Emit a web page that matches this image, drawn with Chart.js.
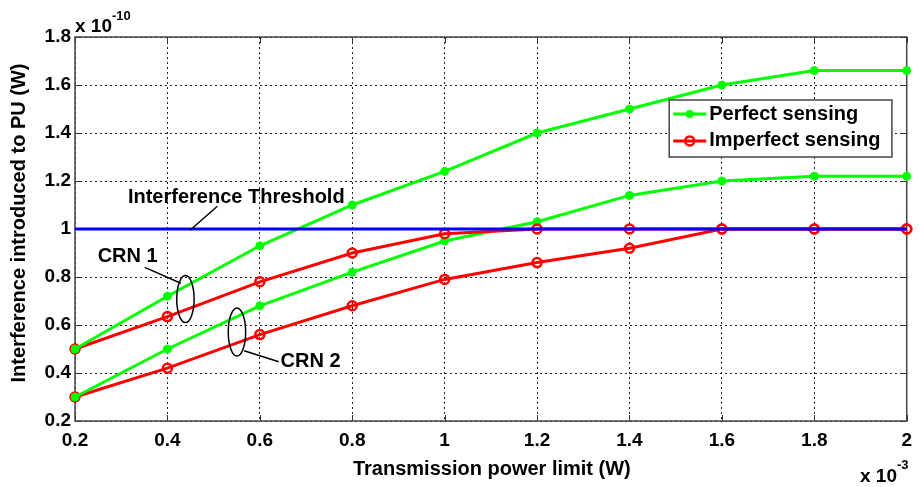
<!DOCTYPE html>
<html>
<head>
<meta charset="utf-8">
<script src="https://cdn.jsdelivr.net/npm/chart.js@4.4.1/dist/chart.umd.min.js"></script>
<style>
  html, body { margin: 0; padding: 0; background: #ffffff; }
  #wrap { width: 920px; height: 487px; }
</style>
</head>
<body>
<div id="wrap"><canvas id="c" width="920" height="487"></canvas></div>
<script>
// ---- data (x in units of 1e-3 W, y in units of 1e-10 W) ----
const powerLimits = [0.2, 0.4, 0.6, 0.8, 1.0, 1.2, 1.4, 1.6, 1.8, 2.0];
const perfectCRN1   = [0.50, 0.72, 0.93, 1.10, 1.24, 1.40, 1.50, 1.60, 1.66, 1.66];
const imperfectCRN1 = [0.50, 0.635, 0.78, 0.90, 0.98, 1.00, 1.00, 1.00, 1.00, 1.00];
const perfectCRN2   = [0.30, 0.50, 0.68, 0.82, 0.95, 1.03, 1.14, 1.20, 1.22, 1.22];
const imperfectCRN2 = [0.30, 0.42, 0.56, 0.68, 0.79, 0.86, 0.92, 1.00, 1.00, 1.00];
const thresholdValue = 1.0;
const xTickValues = [0.2, 0.4, 0.6, 0.8, 1.0, 1.2, 1.4, 1.6, 1.8, 2.0];
const yTickValues = [0.2, 0.4, 0.6, 0.8, 1.0, 1.2, 1.4, 1.6, 1.8];
const legendLabels = ['Perfect sensing', 'Imperfect sensing'];
const xTitle = 'Transmission power limit (W)';
const yTitle = 'Interference introduced to PU (W)';

const FONT = "'Liberation Sans', Arial, sans-serif";
const GREEN = '#00ff00', RED = '#ff0000', BLUE = '#0000ff';

function pts(ys) { return powerLimits.map((x, i) => ({ x: x, y: ys[i] })); }

const greenStyle = {
  borderColor: GREEN, backgroundColor: GREEN, borderWidth: 3,
  pointStyle: 'circle', pointRadius: 4, pointBackgroundColor: GREEN,
  pointBorderColor: GREEN, pointBorderWidth: 1, tension: 0, clip: false
};
const redStyle = {
  borderColor: RED, backgroundColor: 'rgba(0,0,0,0)', borderWidth: 3,
  pointStyle: 'circle', pointRadius: 4.5, pointBackgroundColor: 'rgba(0,0,0,0)',
  pointBorderColor: RED, pointBorderWidth: 2.5, tension: 0, clip: false
};

const datasets = [
  { label: 'Threshold', data: powerLimits.map(x => ({ x: x, y: thresholdValue })),
    borderColor: BLUE, borderWidth: 3, pointRadius: 0, tension: 0, clip: false },
  Object.assign({ label: legendLabels[0] + ' CRN1', data: pts(perfectCRN1) }, greenStyle),
  Object.assign({ label: legendLabels[1] + ' CRN1', data: pts(imperfectCRN1) }, redStyle),
  Object.assign({ label: legendLabels[0] + ' CRN2', data: pts(perfectCRN2) }, greenStyle),
  Object.assign({ label: legendLabels[1] + ' CRN2', data: pts(imperfectCRN2) }, redStyle)
];

// annotation anchors in data coordinates
const annotations = {
  thresholdText: { x: 0.549, y: 1.133, text: 'Interference Threshold' },
  thresholdLine: [[0.508, 1.095], [0.449, 0.995]],
  crn1Text: { x: 0.314, y: 0.885, text: 'CRN 1' },
  crn1Line: [[0.351, 0.840], [0.429, 0.774]],
  crn1Ellipse: { x: 0.439, y: 0.708 },
  crn2Ellipse: { x: 0.5505, y: 0.571 },
  crn2Line: [[0.566, 0.493], [0.641, 0.447]],
  crn2Text: { x: 0.645, y: 0.447, text: 'CRN 2' },
  legendBox: { x0: 1.486, x1: 1.968, y0: 1.5375, y1: 1.30, rows: [1.479, 1.367] }
};

const decorPlugin = {
  id: 'decor',
  beforeDatasetsDraw(chart) {
    const { ctx, chartArea: a } = chart;
    const xs = chart.scales.x, ys = chart.scales.y;
    ctx.save();
    // inner tick marks (MATLAB style)
    ctx.strokeStyle = '#333';
    ctx.lineWidth = 1;
    const tl = 6;
    xTickValues.forEach(v => {
      const px = Math.round(xs.getPixelForValue(v)) + 0.5;
      ctx.beginPath();
      ctx.moveTo(px, a.bottom); ctx.lineTo(px, a.bottom - tl);
      ctx.moveTo(px, a.top); ctx.lineTo(px, a.top + tl);
      ctx.stroke();
    });
    yTickValues.forEach(v => {
      const py = Math.round(ys.getPixelForValue(v)) + 0.5;
      ctx.beginPath();
      ctx.moveTo(a.left, py); ctx.lineTo(a.left + tl, py);
      ctx.moveTo(a.right, py); ctx.lineTo(a.right - tl, py);
      ctx.stroke();
    });
    // box
    ctx.strokeStyle = '#444';
    ctx.lineWidth = 1.5;
    ctx.strokeRect(a.left, a.top, a.right - a.left, a.bottom - a.top);
    ctx.restore();
  },
  afterDatasetsDraw(chart) {
    const { ctx, chartArea: a } = chart;
    const xs = chart.scales.x, ys = chart.scales.y;
    const X = v => xs.getPixelForValue(v), Y = v => ys.getPixelForValue(v);
    ctx.save();
    ctx.fillStyle = '#000';
    ctx.strokeStyle = '#000';
    ctx.lineWidth = 1.5;
    ctx.font = 'bold 20px ' + FONT;
    ctx.textBaseline = 'middle';

    const an = annotations;
    // threshold
    ctx.textAlign = 'center';
    ctx.fillText(an.thresholdText.text, X(an.thresholdText.x), Y(an.thresholdText.y));
    const line = seg => { ctx.beginPath(); ctx.moveTo(X(seg[0][0]), Y(seg[0][1])); ctx.lineTo(X(seg[1][0]), Y(seg[1][1])); ctx.stroke(); };
    line(an.thresholdLine);
    // CRN 1
    ctx.fillText(an.crn1Text.text, X(an.crn1Text.x), Y(an.crn1Text.y));
    line(an.crn1Line);
    ctx.beginPath();
    ctx.ellipse(X(an.crn1Ellipse.x), Y(an.crn1Ellipse.y), 8.7, 23.5, 0, 0, Math.PI * 2);
    ctx.stroke();
    // CRN 2
    ctx.beginPath();
    ctx.ellipse(X(an.crn2Ellipse.x), Y(an.crn2Ellipse.y), 8.7, 24, 0, 0, Math.PI * 2);
    ctx.stroke();
    line(an.crn2Line);
    ctx.textAlign = 'left';
    ctx.fillText(an.crn2Text.text, X(an.crn2Text.x), Y(an.crn2Text.y));

    // legend
    const lb = an.legendBox;
    const bx0 = X(lb.x0), bx1 = X(lb.x1), by0 = Y(lb.y0), by1 = Y(lb.y1);
    ctx.fillStyle = '#fff';
    ctx.fillRect(bx0, by0, bx1 - bx0, by1 - by0);
    ctx.strokeStyle = '#444';
    ctx.lineWidth = 1.5;
    ctx.strokeRect(bx0, by0, bx1 - bx0, by1 - by0);
    const styles = [greenStyle, redStyle];
    lb.rows.forEach((rv, i) => {
      const py = Y(rv);
      const st = styles[i];
      ctx.strokeStyle = st.borderColor;
      ctx.lineWidth = 3;
      ctx.beginPath(); ctx.moveTo(bx0 + 4, py); ctx.lineTo(bx0 + 37, py); ctx.stroke();
      ctx.beginPath();
      ctx.arc(bx0 + 20.5, py, st.pointRadius, 0, Math.PI * 2);
      if (i === 0) { ctx.fillStyle = GREEN; ctx.fill(); }
      else { ctx.lineWidth = st.pointBorderWidth; ctx.strokeStyle = RED; ctx.stroke(); }
      ctx.fillStyle = '#000';
      ctx.textAlign = 'left';
      ctx.fillText(legendLabels[i], bx0 + 40, py);
    });

    // axis titles and exponents
    ctx.fillStyle = '#000';
    ctx.textAlign = 'center';
    ctx.fillText(xTitle, (a.left + a.right) / 2 + 1, 469);
    ctx.save();
    ctx.translate(19, 223);
    ctx.rotate(-Math.PI / 2);
    ctx.fillText(yTitle, 0, 0);
    ctx.restore();
    ctx.textAlign = 'left';
    ctx.font = 'bold 19px ' + FONT;
    ctx.fillText('x 10', a.left, 27);
    ctx.font = 'bold 13px ' + FONT;
    ctx.fillText('-10', a.left + 37, 16);
    ctx.font = 'bold 19px ' + FONT;
    ctx.fillText('x 10', 860, 477);
    ctx.font = 'bold 13px ' + FONT;
    ctx.fillText('-3', 897, 465);
    ctx.restore();
  }
};

const fmt = v => String(Math.round(v * 10) / 10);

new Chart(document.getElementById('c'), {
  type: 'line',
  data: { datasets: datasets },
  options: {
    responsive: false,
    devicePixelRatio: 1,
    animation: false,
    layout: { padding: { top: 37, right: 8, left: 0, bottom: 0 } },
    plugins: { legend: { display: false }, tooltip: { enabled: false } },
    scales: {
      x: {
        type: 'linear', min: 0.2, max: 2.0,
        afterBuildTicks: s => { s.ticks = xTickValues.map(v => ({ value: v })); },
        afterFit: s => { s.height = 66; },
        grid: { color: '#222', lineWidth: 1, drawTicks: false, tickBorderDash: [2, 3] },
        border: { display: false, dash: [2, 3] },
        ticks: { color: '#000', font: { family: FONT, size: 19, weight: 'bold' }, padding: 8, maxRotation: 0, callback: fmt }
      },
      y: {
        type: 'linear', min: 0.2, max: 1.8,
        afterBuildTicks: s => { s.ticks = yTickValues.map(v => ({ value: v })); },
        afterFit: s => { s.width = 75; },
        grid: { color: '#222', lineWidth: 1, drawTicks: false },
        border: { display: false, dash: [2, 3] },
        ticks: { color: '#000', font: { family: FONT, size: 19, weight: 'bold' }, padding: 4, callback: fmt }
      }
    }
  },
  plugins: [decorPlugin]
});
</script>
</body>
</html>
